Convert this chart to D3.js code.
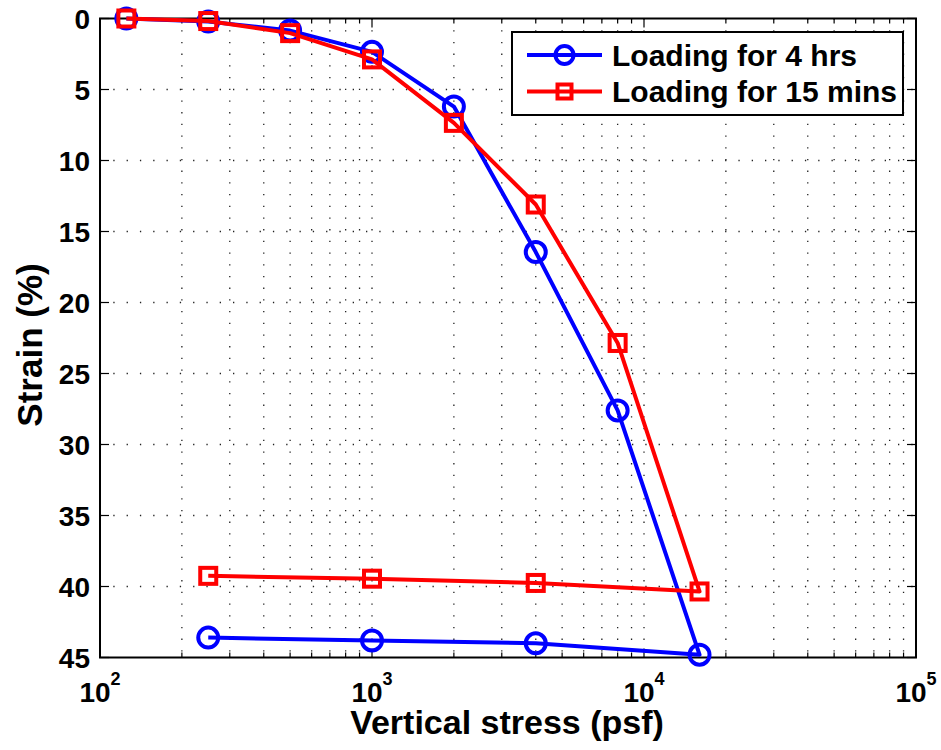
<!DOCTYPE html>
<html>
<head>
<meta charset="utf-8">
<script src="https://cdn.jsdelivr.net/npm/d3@7"></script>
<style>
  body { margin: 0; background: #fff; }
  text { font-family: "Liberation Sans", Arial, sans-serif; font-weight: bold; fill: #000; }
</style>
</head>
<body>
<svg id="chart"></svg>
<script>
// stress (psf) for each step: loading then unloading
let stress = [125, 250, 500, 1000, 2000, 4000, 8000, 16000, 4000, 1000, 250]
let strain4hrs = [0, 0.22, 0.85, 2.35, 6.2, 16.45, 27.6, 44.8, 44.0, 43.8, 43.6]
let strain15min = [0, 0.18, 1.03, 2.88, 7.35, 13.1, 22.85, 40.35, 39.75, 39.45, 39.25]
let seriesNames = ["Loading for 4 hrs", "Loading for 15 mins"]
let yTicks = [0, 5, 10, 15, 20, 25, 30, 35, 40, 45]
let xDecades = [2, 3, 4, 5]

let w = 941
let h = 750
let m = { left: 100, right: 25, top: 18.5, bottom: 92.5 }

let svg = d3.select("#chart")
    .attr("width", w)
    .attr("height", h)

let x = d3.scaleLog().domain([100, 100000]).range([m.left, w - m.right])
let y = d3.scaleLinear().domain([0, 45]).range([m.top, h - m.bottom])

let x0 = x.range()[0], x1 = x.range()[1]
let y0 = y.range()[0], y1 = y.range()[1]

// minor + major x positions
let xAll = []
for (let d = 2; d < 5; d++) {
    for (let k = 1; k < 10; k++) xAll.push(k * Math.pow(10, d))
}
xAll.push(100000)

// grid
let grid = svg.append("g").attr("class", "grid")
grid.selectAll("line.v")
    .data(xAll.filter(v => v > 100 && v < 100000))
    .join("line")
    .attr("x1", d => x(d)).attr("x2", d => x(d))
    .attr("y1", y0).attr("y2", y1)
    .attr("stroke", "#222")
    .attr("stroke-width", 1.3)
    .attr("stroke-dasharray", "1.3,10.4")
grid.selectAll("line.h")
    .data(yTicks.filter(v => v > 0 && v < 45))
    .join("line")
    .attr("x1", x0).attr("x2", x1)
    .attr("y1", d => y(d)).attr("y2", d => y(d))
    .attr("stroke", "#222")
    .attr("stroke-width", 1.3)
    .attr("stroke-dasharray", "1.3,12")

// ticks (inside, all four sides)
let ticks = svg.append("g").attr("stroke", "#000").attr("stroke-width", 1.2)
xAll.forEach(v => {
    let major = Number.isInteger(Math.log10(v))
    let len = major ? 9 : 5
    ticks.append("line").attr("x1", x(v)).attr("x2", x(v)).attr("y1", y1).attr("y2", y1 - len)
    ticks.append("line").attr("x1", x(v)).attr("x2", x(v)).attr("y1", y0).attr("y2", y0 + len)
})
yTicks.forEach(v => {
    ticks.append("line").attr("x1", x0).attr("x2", x0 + 9).attr("y1", y(v)).attr("y2", y(v))
    ticks.append("line").attr("x1", x1).attr("x2", x1 - 9).attr("y1", y(v)).attr("y2", y(v))
})

// frame
svg.append("rect")
    .attr("x", x0).attr("y", y0)
    .attr("width", x1 - x0).attr("height", y1 - y0)
    .attr("fill", "none")
    .attr("stroke", "#000")
    .attr("stroke-width", 2)

// tick labels
svg.append("g").selectAll("text")
    .data(yTicks)
    .join("text")
    .attr("x", x0 - 10)
    .attr("y", d => y(d))
    .attr("dy", "0.36em")
    .attr("text-anchor", "end")
    .attr("font-size", 28)
    .text(d => d)

let xl = svg.append("g").selectAll("text")
    .data(xDecades)
    .join("text")
    .attr("x", d => x(Math.pow(10, d)))
    .attr("y", 702)
    .attr("text-anchor", "middle")
    .attr("font-size", 28)
xl.append("tspan").text("10")
xl.append("tspan").attr("dy", -17).attr("font-size", 18).text(d => d)

// axis labels
svg.append("text")
    .attr("x", (x0 + x1) / 2 - 1)
    .attr("y", 734)
    .attr("text-anchor", "middle")
    .attr("font-size", 34)
    .text("Vertical stress (psf)")

svg.append("text")
    .attr("transform", "translate(42," + 345 + ") rotate(-90)")
    .attr("text-anchor", "middle")
    .attr("font-size", 35)
    .text("Strain (%)")

// series
let series = [
    { name: seriesNames[0], values: strain4hrs, color: "#0000ff", marker: "circle" },
    { name: seriesNames[1], values: strain15min, color: "#ff0000", marker: "square" }
]

let line = d3.line()
    .x(d => x(d[0]))
    .y(d => y(d[1]))

function drawMarker(g, type, cx, cy, size, color) {
    if (type == "circle") {
        g.append("circle")
            .attr("cx", cx).attr("cy", cy).attr("r", size)
            .attr("fill", "none").attr("stroke", color).attr("stroke-width", 4)
    } else {
        g.append("rect")
            .attr("x", cx - size).attr("y", cy - size)
            .attr("width", size * 2).attr("height", size * 2)
            .attr("fill", "none").attr("stroke", color).attr("stroke-width", 4)
    }
}

series.forEach(s => {
    let pts = stress.map((v, i) => [v, s.values[i]])
    let g = svg.append("g")
    g.append("path")
        .attr("d", line(pts))
        .attr("fill", "none")
        .attr("stroke", s.color)
        .attr("stroke-width", 4)
        .attr("stroke-linejoin", "round")
    pts.forEach(p => drawMarker(g, s.marker, x(p[0]), y(p[1]), s.marker == "circle" ? 10 : 8, s.color))
})

// legend
let lg = svg.append("g")
lg.append("rect")
    .attr("x", 512).attr("y", 32)
    .attr("width", 391).attr("height", 83)
    .attr("fill", "#fff")
    .attr("stroke", "#000")
    .attr("stroke-width", 2)
series.forEach((s, i) => {
    let ly = 55 + i * 36.5
    lg.append("line")
        .attr("x1", 527).attr("x2", 602)
        .attr("y1", ly).attr("y2", ly)
        .attr("stroke", s.color).attr("stroke-width", 4)
    drawMarker(lg, s.marker, 564.5, ly, s.marker == "circle" ? 9 : 7, s.color)
    lg.append("text")
        .attr("x", 612)
        .attr("y", ly)
        .attr("dy", "0.36em")
        .attr("font-size", 30)
        .text(s.name)
})
</script>
</body>
</html>
